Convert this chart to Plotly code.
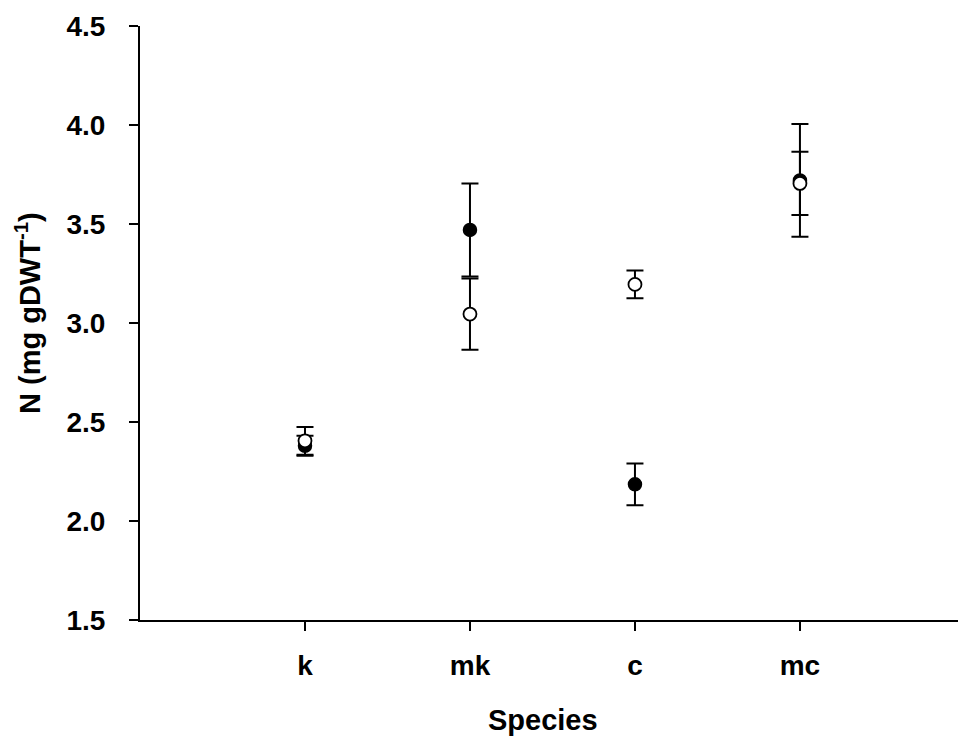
import plotly.graph_objects as go

species = ["k", "mk", "c", "mc"]
positions = [1, 2, 3, 4]
filled_mean = [2.38, 3.47, 2.185, 3.72]
filled_err = [0.05, 0.235, 0.105, 0.285]
open_mean = [2.405, 3.045, 3.195, 3.705]
open_err = [0.07, 0.18, 0.07, 0.16]
y_ticks = [1.5, 2.0, 2.5, 3.0, 3.5, 4.0, 4.5]
y_tick_text = ["1.5", "2.0", "2.5", "3.0", "3.5", "4.0", "4.5"]

FONT = "Liberation Sans, Arial, sans-serif"

fig = go.Figure()
fig.add_trace(go.Scatter(
    x=positions, y=filled_mean, mode="markers",
    marker=dict(symbol="circle", size=13, color="black",
                line=dict(color="black", width=1.5)),
    error_y=dict(type="data", array=filled_err, visible=True,
                 color="black", thickness=2, width=8.5),
    showlegend=False,
))
fig.add_trace(go.Scatter(
    x=positions, y=open_mean, mode="markers",
    marker=dict(symbol="circle", size=13, color="white",
                line=dict(color="black", width=1.8)),
    error_y=dict(type="data", array=open_err, visible=True,
                 color="black", thickness=2, width=8.5),
    showlegend=False,
))

fig.update_layout(
    width=958, height=742,
    margin=dict(l=140, r=0, t=26, b=122),
    paper_bgcolor="white", plot_bgcolor="white",
    font=dict(family=FONT, color="black"),
    xaxis=dict(
        range=[0, 4.958], tickmode="array", tickvals=positions, ticktext=species,
        showline=True, linecolor="black", linewidth=2, mirror=False,
        ticks="outside", ticklen=9, tickwidth=2, tickcolor="black",
        showgrid=False, zeroline=False,
        tickfont=dict(family=FONT, size=28, color="black", weight="bold"),
        ticklabelstandoff=10,
    ),
    yaxis=dict(
        range=[1.5, 4.5], tickmode="array", tickvals=y_ticks, ticktext=y_tick_text,
        showline=True, linecolor="black", linewidth=2, mirror=False,
        ticks="outside", ticklen=9, tickwidth=2, tickcolor="black",
        showgrid=False, zeroline=False,
        tickfont=dict(family=FONT, size=28, color="black", weight="bold"),
        ticklabelstandoff=18,
    ),
    annotations=[
        dict(text="<b>Species</b>", xref="paper", yref="paper",
             x=(543 - 140) / 818, y=-(720 - 620) / 594, xanchor="center", yanchor="middle",
             showarrow=False, font=dict(family=FONT, size=29, color="black")),
        dict(text="<b>N (mg gDWT<sup>-1</sup>)</b>", xref="paper", yref="paper",
             x=-(140 - 28) / 818, y=(620 - 313) / 594, xanchor="center", yanchor="middle",
             textangle=-90, showarrow=False,
             font=dict(family=FONT, size=29, color="black")),
    ],
)

fig.write_html("out.html")
